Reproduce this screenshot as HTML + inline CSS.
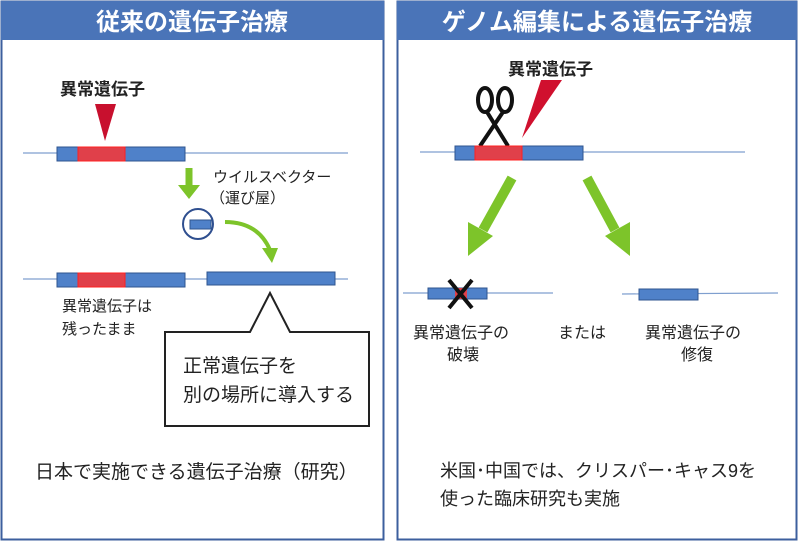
<!DOCTYPE html>
<html><head><meta charset="utf-8"><style>
html,body{margin:0;padding:0;background:#fff}
svg{display:block}
text{font-family:"Liberation Sans","Noto Sans CJK JP",sans-serif}
</style></head><body>
<svg width="800" height="543" viewBox="0 0 800 543" xmlns="http://www.w3.org/2000/svg">
<!-- panels -->
<rect x="1.5" y="1.5" width="382" height="538" fill="#fff" stroke="#3c5f9e" stroke-width="2"/>
<rect x="1" y="1" width="383" height="39" fill="#4a74b8"/>
<text x="192" y="30" font-size="24" fill="#fff" text-anchor="middle" font-weight="bold">従来の遺伝子治療</text>
<rect x="397.5" y="1.5" width="399" height="538" fill="#fff" stroke="#3c5f9e" stroke-width="2"/>
<rect x="397" y="1" width="400" height="39" fill="#4a74b8"/>
<text x="597" y="30" font-size="24" fill="#fff" text-anchor="middle" font-weight="bold">ゲノム編集による遺伝子治療</text>

<!-- left -->
<text x="60" y="95" font-size="17" font-weight="bold" fill="#222">異常遺伝子</text>
<polygon points="95,104 116,104 105,141" fill="#c8102e"/>
<line x1="23" y1="153" x2="348" y2="153" stroke="#7f9fcf" stroke-width="1.2"/>
<rect x="57" y="147" width="128" height="14" fill="#4f81c9" stroke="#2f558f"/>
<rect x="78" y="147" width="47" height="14" fill="#e0404a" stroke="#ff2020"/>
<line x1="189" y1="168" x2="189" y2="186" stroke="#7dc42a" stroke-width="7"/>
<polygon points="178,185 200,185 189,199" fill="#7dc42a"/>
<text x="213" y="182" font-size="15" fill="#222">ウイルスベクター</text>
<text x="210" y="203" font-size="15" fill="#222">（運び屋）</text>
<circle cx="198" cy="224" r="15" fill="#fff" stroke="#2f4f8f" stroke-width="2"/>
<rect x="190" y="220" width="21" height="9" fill="#4f81c9" stroke="#2f558f"/>
<path d="M225,222 Q258,222 270,250" fill="none" stroke="#7dc42a" stroke-width="4"/>
<polygon points="262,248 278,248 272,263" fill="#7dc42a"/>
<line x1="23" y1="279" x2="348" y2="279" stroke="#7f9fcf" stroke-width="1.2"/>
<rect x="57" y="273" width="128" height="14" fill="#4f81c9" stroke="#2f558f"/>
<rect x="78" y="273" width="47" height="14" fill="#e0404a" stroke="#ff2020"/>
<rect x="207" y="272" width="128" height="13" fill="#4f81c9" stroke="#2f558f"/>
<text x="62" y="311" font-size="15" fill="#222">異常遺伝子は</text>
<text x="62" y="334" font-size="15" fill="#222">残ったまま</text>
<path d="M165,332 L250,332 L270,293 L290,332 L369,332 L369,426 L165,426 Z" fill="#fff" stroke="#222" stroke-width="2"/>
<text x="183" y="372" font-size="19" fill="#222">正常遺伝子を</text>
<text x="183" y="401" font-size="19" fill="#222">別の場所に導入する</text>
<text x="35" y="478" font-size="19" fill="#222">日本で実施できる遺伝子治療（研究）</text>

<!-- right -->
<text x="508" y="75" font-size="17" font-weight="bold" fill="#222">異常遺伝子</text>
<polygon points="541,80 562,80 522,138" fill="#d0102e"/>
<g stroke="#111" stroke-width="4" fill="none">
<ellipse cx="485" cy="100" rx="7" ry="12"/>
<ellipse cx="505" cy="100" rx="7" ry="12"/>
<line x1="487" y1="112" x2="508" y2="146"/>
<line x1="503" y1="112" x2="480" y2="146"/>
</g>
<line x1="420" y1="152" x2="745" y2="152" stroke="#7f9fcf" stroke-width="1.2"/>
<rect x="455" y="146" width="128" height="14" fill="#4f81c9" stroke="#2f558f"/>
<rect x="475" y="146" width="47" height="14" fill="#e0404a" stroke="#ff2020"/>
<line x1="512" y1="178" x2="483" y2="230" stroke="#7dc42a" stroke-width="10"/>
<polygon points="468,222 493,236 468,256" fill="#7dc42a"/>
<line x1="587" y1="178" x2="615" y2="230" stroke="#7dc42a" stroke-width="10"/>
<polygon points="605,236 630,222 630,256" fill="#7dc42a"/>
<line x1="403" y1="293" x2="553" y2="293" stroke="#7f9fcf" stroke-width="1.2"/>
<rect x="428" y="288" width="59" height="11" fill="#4f81c9" stroke="#2f558f"/>
<rect x="455" y="288" width="12" height="11" fill="#e0404a"/>
<g stroke="#111" stroke-width="4"><line x1="449" y1="280" x2="472" y2="308"/><line x1="472" y1="280" x2="449" y2="308"/></g>
<line x1="622" y1="294" x2="778" y2="293" stroke="#7f9fcf" stroke-width="1.2"/>
<rect x="639" y="289" width="59" height="11" fill="#4f81c9" stroke="#2f558f"/>
<text x="413" y="338" font-size="16" fill="#222">異常遺伝子の</text>
<text x="447" y="360" font-size="16" fill="#222">破壊</text>
<text x="558" y="338" font-size="16" fill="#222">または</text>
<text x="645" y="338" font-size="16" fill="#222">異常遺伝子の</text>
<text x="681" y="360" font-size="16" fill="#222">修復</text>
<text x="440" y="477" font-size="18" fill="#222">米国･中国では、クリスパー･キャス9を</text>
<text x="440" y="505" font-size="18" fill="#222">使った臨床研究も実施</text>
</svg>
</body></html>
